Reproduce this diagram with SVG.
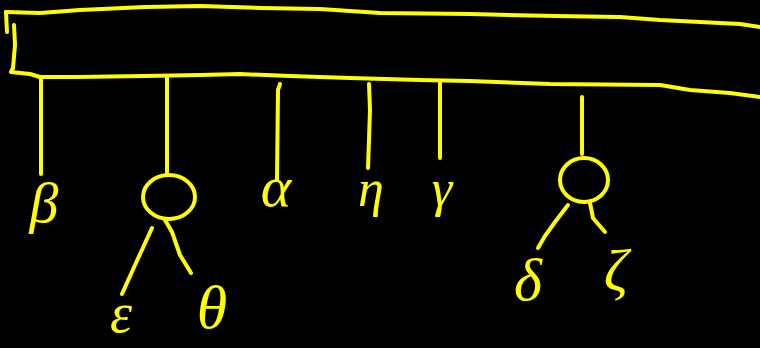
<svg xmlns="http://www.w3.org/2000/svg" width="760" height="348" viewBox="0 0 760 348">
<style>
.s{fill:none;stroke:#ffff00;stroke-width:4;stroke-linecap:round;stroke-linejoin:round}
.t{fill:#ffff00;font-family:"Liberation Serif","DejaVu Serif",serif;font-style:italic;text-anchor:middle}
</style>
<rect width="760" height="348" fill="#000"/>
<g id="root">
<path class="s" d="M6,12 L40,13 L80,10 L145,7 L200,6 L260,8 L320,9 L380,13 L470,14 L555,16 L620,17 L660,20 L700,22 L740,24 L760,27"/>
<path class="s" d="M6,12 L7,32"/>
<path class="s" d="M14,25 L15,45 L13,68 L11,72 L30,74 L40,77 L75,77 L145,76 L200,75 L240,74 L290,76 L350,78 L420,80 L470,81 L550,84 L660,85 L690,90 L730,93 L760,97"/>
</g>
<g id="connectors">
<path class="s" d="M41,78 L41,120 L41,174"/>
<path class="s" d="M167,77 L167,174"/>
<path class="s" d="M280,84 L278,90 L277,180"/>
<path class="s" d="M369,84 L370,110 L368,168"/>
<path class="s" d="M440,81 L440,158"/>
<path class="s" d="M582,97 L582,154"/>
<path class="s" d="M152,228 L135,265 L122,294"/>
<path class="s" d="M165,220 L172,232 L180,255 L191,273"/>
<path class="s" d="M568,205 L555,222 L545,236 L538,248"/>
<path class="s" d="M590,203 L593,218 L605,232"/>
</g>
<g id="n_beta"><text class="t" x="44" y="222" font-size="58">β</text></g>
<g id="n_c1"><ellipse class="s" cx="169" cy="197" rx="26" ry="22"/></g>
<g id="n_alpha"><text class="t" x="276" y="206" font-size="58">α</text></g>
<g id="n_eta"><text class="t" x="371" y="206" font-size="52">η</text></g>
<g id="n_gamma"><text class="t" x="442" y="206" font-size="52">γ</text></g>
<g id="n_c2"><ellipse class="s" cx="584" cy="180" rx="24" ry="22"/></g>
<g id="n_eps"><text class="t" x="121" y="332" font-size="56">ε</text></g>
<g id="n_theta"><text class="t" x="212" y="328" font-size="62">θ</text></g>
<g id="n_delta"><text class="t" x="528" y="300" font-size="60">δ</text></g>
<g id="n_zeta"><text class="t" x="616" y="290" font-size="60">ζ</text></g>
</svg>
